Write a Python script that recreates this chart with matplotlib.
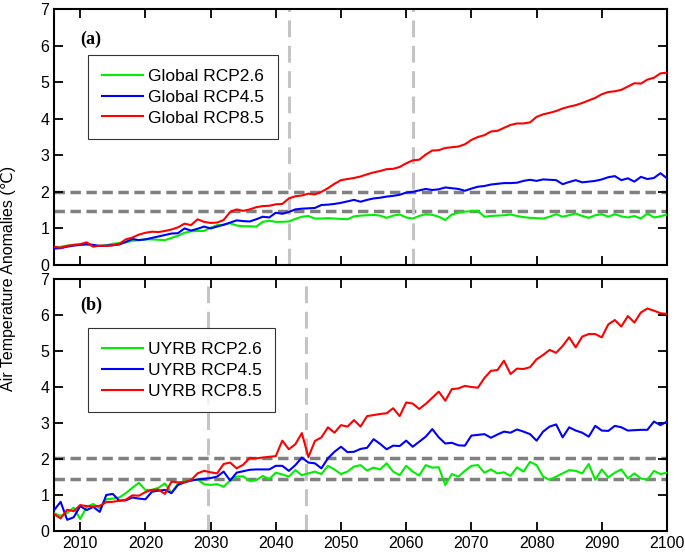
import numpy as np
import matplotlib.pyplot as plt

plt.rcParams['font.family'] = ['Liberation Sans', 'DejaVu Sans']

years = np.arange(2006, 2101)

# Global projections (panel a)
global_26 = [0.45, 0.50, 0.53, 0.55, 0.55, 0.56, 0.53, 0.52, 0.54, 0.58,
             0.60, 0.62, 0.66, 0.68, 0.70, 0.70, 0.69, 0.68, 0.74, 0.80,
             0.88, 0.92, 0.93, 0.93, 1.02, 1.09, 1.10, 1.14, 1.08, 1.06,
             1.06, 1.05, 1.18, 1.21, 1.18, 1.18, 1.19, 1.26, 1.32, 1.34,
             1.27, 1.27, 1.28, 1.27, 1.26, 1.25, 1.33, 1.35, 1.36, 1.37,
             1.35, 1.29, 1.35, 1.38, 1.30, 1.27, 1.34, 1.39, 1.37, 1.32,
             1.23, 1.38, 1.43, 1.46, 1.47, 1.48, 1.32, 1.34, 1.35, 1.36,
             1.38, 1.34, 1.31, 1.29, 1.28, 1.27, 1.32, 1.39, 1.32, 1.36,
             1.41, 1.34, 1.29, 1.36, 1.39, 1.32, 1.39, 1.33, 1.30, 1.34,
             1.27, 1.41, 1.30, 1.33, 1.38]
global_45 = [0.45, 0.46, 0.50, 0.53, 0.55, 0.57, 0.55, 0.52, 0.53, 0.54,
             0.56, 0.63, 0.71, 0.68, 0.70, 0.74, 0.78, 0.82, 0.86, 0.87,
             1.00, 0.94, 0.99, 1.05, 1.00, 1.05, 1.10, 1.16, 1.22, 1.20,
             1.19, 1.25, 1.32, 1.30, 1.43, 1.40, 1.45, 1.52, 1.54, 1.55,
             1.56, 1.64, 1.65, 1.67, 1.70, 1.74, 1.78, 1.73, 1.78, 1.82,
             1.84, 1.87, 1.89, 1.92, 1.98, 2.00, 2.04, 2.08, 2.05, 2.07,
             2.12, 2.10, 2.08, 2.03, 2.09, 2.14, 2.16, 2.20, 2.22, 2.24,
             2.24, 2.25, 2.30, 2.33, 2.30, 2.34, 2.33, 2.32, 2.21, 2.27,
             2.32, 2.26, 2.28, 2.30, 2.34, 2.40, 2.43, 2.32, 2.37, 2.28,
             2.41, 2.35, 2.38, 2.51, 2.37]
global_85 = [0.50, 0.47, 0.52, 0.55, 0.57, 0.62, 0.50, 0.53, 0.52, 0.54,
             0.58, 0.70, 0.75, 0.83, 0.88, 0.91, 0.90, 0.93, 0.97, 1.03,
             1.13, 1.09, 1.25, 1.18, 1.15, 1.16, 1.23, 1.45, 1.52, 1.48,
             1.52, 1.58, 1.61, 1.62, 1.66, 1.67, 1.82, 1.88, 1.90, 1.95,
             1.93, 2.00, 2.10, 2.22, 2.32, 2.35, 2.38, 2.42, 2.48, 2.53,
             2.57, 2.62, 2.63, 2.68, 2.78, 2.86, 2.88, 3.02, 3.13, 3.14,
             3.20, 3.22, 3.24, 3.30, 3.42, 3.50, 3.55, 3.65, 3.67, 3.75,
             3.83, 3.87, 3.87, 3.90, 4.05, 4.12, 4.16, 4.21, 4.28, 4.33,
             4.37, 4.43, 4.50, 4.57, 4.67, 4.73, 4.75, 4.79, 4.88, 4.97,
             4.96, 5.07, 5.12, 5.24, 5.26]

# UYRB projections (panel b)
uyrb_26 = [0.49, 0.42, 0.50, 0.65, 0.33, 0.67, 0.75, 0.63, 0.88, 0.90,
           0.93, 1.05, 1.20, 1.34, 1.14, 1.14, 1.20, 1.32, 1.06, 1.32,
           1.38, 1.41, 1.43, 1.30, 1.28, 1.30, 1.23, 1.40, 1.51, 1.52,
           1.39, 1.41, 1.53, 1.44, 1.62, 1.57, 1.51, 1.69, 1.55, 1.60,
           1.65, 1.58, 1.81, 1.71, 1.58, 1.65, 1.79, 1.83, 1.68, 1.76,
           1.71, 1.88, 1.65, 1.55, 1.81, 1.65, 1.54, 1.83, 1.76, 1.77,
           1.28, 1.58, 1.51, 1.67, 1.81, 1.83, 1.62, 1.71, 1.60, 1.63,
           1.53, 1.77, 1.65, 1.92, 1.83, 1.51, 1.42, 1.51, 1.60, 1.69,
           1.67, 1.60, 1.86, 1.42, 1.71, 1.49, 1.62, 1.71, 1.46, 1.60,
           1.46, 1.42, 1.67, 1.58, 1.62]
uyrb_45 = [0.58, 0.81, 0.31, 0.38, 0.69, 0.58, 0.67, 0.53, 1.00, 1.03,
           0.84, 0.85, 0.93, 0.90, 0.88, 1.09, 1.12, 1.14, 1.05, 1.28,
           1.35, 1.40, 1.43, 1.45, 1.47, 1.51, 1.65, 1.40, 1.62, 1.66,
           1.70, 1.71, 1.71, 1.71, 1.81, 1.81, 1.67, 1.83, 2.04, 1.90,
           1.88, 1.74, 2.02, 2.20, 2.34, 2.19, 2.20, 2.28, 2.31, 2.55,
           2.42, 2.27, 2.37, 2.36, 2.51, 2.34, 2.48, 2.62, 2.83, 2.60,
           2.43, 2.45, 2.38, 2.37, 2.65, 2.67, 2.69, 2.59, 2.68, 2.76,
           2.73, 2.82, 2.76, 2.69, 2.51, 2.76, 2.90, 2.96, 2.60, 2.88,
           2.79, 2.73, 2.62, 2.92, 2.79, 2.78, 2.92, 2.88, 2.79, 2.80,
           2.81, 2.81, 3.04, 2.94, 3.04]
uyrb_85 = [0.47, 0.35, 0.59, 0.55, 0.72, 0.69, 0.68, 0.70, 0.80, 0.81,
           0.84, 0.87, 0.99, 0.98, 1.08, 1.14, 1.15, 1.03, 1.37, 1.35,
           1.36, 1.41, 1.60, 1.67, 1.63, 1.60, 1.86, 1.90, 1.74, 1.84,
           2.03, 2.02, 2.04, 2.06, 2.08, 2.51, 2.27, 2.41, 2.72, 2.05,
           2.50, 2.60, 2.88, 2.73, 2.94, 2.90, 3.08, 2.90, 3.19, 3.22,
           3.25, 3.27, 3.41, 3.19, 3.57, 3.54, 3.39, 3.53, 3.70, 3.87,
           3.62, 3.94, 3.96, 4.03, 4.00, 3.98, 4.25, 4.45, 4.47, 4.73,
           4.36, 4.51, 4.50, 4.55, 4.77, 4.89, 5.03, 4.95, 5.14, 5.38,
           5.10, 5.40, 5.47, 5.47, 5.38, 5.74, 5.86, 5.68, 5.97, 5.79,
           6.07, 6.18, 6.12, 6.05, 6.03]

# threshold levels (1.5 / 2.0 warming) and crossing years
global_levels = [2.0, 1.47]
global_cross = [2042, 2061]
uyrb_levels = [2.04, 1.44]
uyrb_cross = [2029.6, 2044.6]

colors = ['#00ee00', '#0000ff', '#ff0000']
scen = ['RCP2.6', 'RCP4.5', 'RCP8.5']

fig = plt.figure(figsize=(6.85, 5.56), dpi=100)
ax1 = fig.add_axes([0.079, 0.5234, 0.8947, 0.4604])
ax2 = fig.add_axes([0.079, 0.045, 0.8947, 0.4532])


def draw_panel(ax, series, prefix, levels, cross, tag, tag_y, leg_top):
    for lev in levels:
        ax.axhline(lev, color='#808080', lw=2.5, dashes=(3, 1.6), zorder=1)
    for c in cross:
        ax.axvline(c, color='#c4c4c4', lw=2.2, dashes=(5.5, 2.8), zorder=1)
    for vals, col, s in zip(series, colors, scen):
        ax.plot(years, vals, color=col, lw=1.5, label=prefix + ' ' + s, zorder=3)
    ax.set_xlim(2006, 2100)
    ax.set_ylim(0, 7)
    ax.set_xticks(np.arange(2010, 2101, 10))
    ax.set_yticks(np.arange(0, 8, 1))
    ax.tick_params(direction='in', length=6.5, width=1.3, labelsize=11.5,
                   top=True, right=True)
    for sp in ax.spines.values():
        sp.set_linewidth(1.5)
    ax.text(0.042, tag_y, tag, transform=ax.transAxes, fontsize=13,
            fontweight='bold', family='Liberation Serif', va='center')
    leg = ax.legend(loc='upper left', bbox_to_anchor=(0.055, leg_top),
                    fontsize=12.5, frameon=True, fancybox=False,
                    edgecolor='black', handlelength=2.35, handletextpad=0.3,
                    labelspacing=0.32, borderpad=0.8, borderaxespad=0)
    leg.get_frame().set_linewidth(0.8)


draw_panel(ax1, [global_26, global_45, global_85], 'Global',
           global_levels, global_cross, '(a)', 0.88, 0.82)
draw_panel(ax2, [uyrb_26, uyrb_45, uyrb_85], 'UYRB',
           uyrb_levels, uyrb_cross, '(b)', 0.895, 0.805)
ax1.tick_params(labelbottom=False)

fig.text(0.012, 0.5, 'Air Temperature Anomalies (\u2103)', rotation=90,
         va='center', ha='center', fontsize=11.5)

fig.savefig('out.png', dpi=100)
